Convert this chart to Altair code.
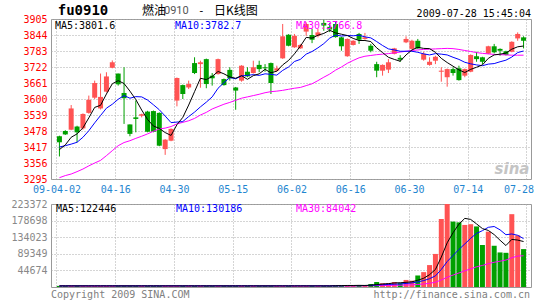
import altair as alt
import pandas as pd

# ---------------- data ----------------
DAYS = list(range(80))
OPEN = [3458, 3478, 3483, 3495, 3488, 3547, 3605, 3564, 3628, 3719,
        3697, 3623, 3503, 3530, 3536, 3552, 3554, 3547, 3409, 3441,
        3594, 3653, 3644, 3737, 3733, 3752, 3689, 3695, 3676, 3711,
        3644, 3670, 3704, 3699, 3730, 3721, 3737, 3708, 3755, 3845,
        3797, 3793, 3857, 3844, 3841, 3890, 3875, 3886, 3835, 3763,
        3806, 3848, 3829, 3803, 3733, 3708, 3712, 3772, 3757, 3816,
        3791, 3822, 3750, 3730, 3746, 3704, 3683, 3714, 3717, 3689,
        3704, 3763, 3759, 3773, 3801, 3791, 3782, 3780, 3831, 3835]
HIGH = [3460, 3481, 3577, 3498, 3545, 3613, 3670, 3697, 3702, 3747,
        3697, 3721, 3503, 3594, 3544, 3555, 3556, 3549, 3447, 3488,
        3682, 3655, 3670, 3759, 3746, 3754, 3699, 3754, 3678, 3721,
        3646, 3729, 3721, 3746, 3746, 3733, 3739, 3727, 3886, 3847,
        3848, 3810, 3892, 3867, 3867, 3902, 3890, 3894, 3837, 3831,
        3824, 3852, 3852, 3810, 3742, 3732, 3752, 3795, 3767, 3839,
        3826, 3829, 3780, 3759, 3765, 3721, 3716, 3721, 3727, 3716,
        3770, 3780, 3761, 3803, 3810, 3793, 3784, 3820, 3854, 3839]
LOW = [3381, 3463, 3481, 3435, 3483, 3544, 3600, 3560, 3625, 3717,
       3651, 3505, 3458, 3473, 3530, 3473, 3473, 3420, 3387, 3439,
       3572, 3600, 3638, 3695, 3643, 3641, 3651, 3693, 3651, 3670,
       3559, 3666, 3683, 3697, 3702, 3704, 3619, 3704, 3753, 3801,
       3795, 3791, 3841, 3813, 3835, 3860, 3855, 3834, 3784, 3761,
       3804, 3810, 3826, 3778, 3683, 3689, 3699, 3770, 3741, 3813,
       3789, 3791, 3746, 3727, 3733, 3666, 3647, 3689, 3670, 3683,
       3702, 3742, 3733, 3771, 3774, 3765, 3766, 3778, 3822, 3793]
CLOSE = [3435, 3465, 3564, 3473, 3543, 3597, 3661, 3608, 3686, 3740,
         3656, 3603, 3467, 3524, 3542, 3475, 3475, 3422, 3445, 3486,
         3680, 3619, 3657, 3699, 3740, 3657, 3679, 3752, 3653, 3679,
         3632, 3727, 3686, 3721, 3714, 3717, 3661, 3717, 3839, 3803,
         3841, 3806, 3886, 3826, 3854, 3880, 3865, 3836, 3801, 3829,
         3822, 3826, 3835, 3784, 3708, 3730, 3740, 3793, 3750, 3829,
         3822, 3793, 3772, 3742, 3761, 3708, 3714, 3699, 3672, 3714,
         3768, 3752, 3742, 3801, 3778, 3784, 3768, 3818, 3848, 3822]
MA5 = [3407, 3425, 3454, 3467, 3490, 3528, 3568, 3576, 3619, 3658,
       3670, 3659, 3630, 3598, 3558, 3522, 3497, 3488, 3472, 3461,
       3502, 3530, 3577, 3628, 3679, 3674, 3686, 3705, 3696, 3684,
       3679, 3689, 3675, 3689, 3696, 3713, 3700, 3706, 3730, 3747,
       3772, 3801, 3835, 3832, 3843, 3850, 3862, 3852, 3847, 3842,
       3831, 3823, 3823, 3819, 3795, 3777, 3759, 3751, 3744, 3768,
       3787, 3797, 3793, 3792, 3778, 3755, 3739, 3725, 3711, 3701,
       3713, 3721, 3730, 3755, 3768, 3771, 3775, 3790, 3799, 3802]
MA10 = [3417, 3422, 3428, 3435, 3454, 3479, 3509, 3537, 3565, 3580,
        3599, 3613, 3603, 3609, 3608, 3596, 3578, 3559, 3535, 3510,
        3512, 3514, 3533, 3550, 3570, 3588, 3608, 3641, 3662, 3682,
        3677, 3688, 3690, 3693, 3690, 3696, 3694, 3691, 3709, 3722,
        3743, 3751, 3771, 3781, 3795, 3811, 3832, 3844, 3840, 3842,
        3841, 3843, 3837, 3833, 3819, 3804, 3791, 3787, 3782, 3782,
        3782, 3778, 3772, 3768, 3773, 3771, 3768, 3759, 3751, 3740,
        3734, 3730, 3727, 3733, 3735, 3742, 3748, 3760, 3777, 3783]
MA30 = [3300, 3308, 3314, 3323, 3333, 3345, 3356, 3366, 3384, 3403,
        3422, 3434, 3441, 3450, 3458, 3467, 3477, 3486, 3489, 3495,
        3505, 3511, 3517, 3526, 3539, 3549, 3562, 3571, 3580, 3587,
        3595, 3603, 3608, 3613, 3618, 3624, 3628, 3630, 3633, 3637,
        3641, 3644, 3651, 3658, 3670, 3683, 3695, 3710, 3722, 3736,
        3747, 3757, 3763, 3766, 3769, 3771, 3773, 3776, 3779, 3782,
        3785, 3787, 3789, 3790, 3791, 3792, 3793, 3792, 3789, 3785,
        3781, 3777, 3774, 3772, 3770, 3769, 3768, 3767, 3767, 3767]
VOLUME = [3000] * 47 + [5000, 5000, 4500, 3000, 4500, 4000, 8000, 13500, 10000,
                        10000, 13500, 10500, 19000, 17000, 31000, 40000, 59000, 89000, 183000,
                        223372, 176000, 174000, 167000, 169000, 163000, 113000, 149000, 111000, 93000,
                        92000, 196000, 139000, 102000]
VMA5 = [3000] * 47 + [3400, 3800, 4100, 4100, 4400, 4200, 4800, 6600, 8000,
                      9100, 11000, 11500, 12600, 14000, 18200, 23500, 33200, 47200, 80400,
                      118900, 146100, 169100, 184700, 181900, 169800, 157200, 152200, 141000, 125800,
                      111600, 128200, 126200, 122446]
VMA10 = [3000] * 47 + [3200, 3400, 3550, 3550, 3700, 3800, 4300, 5350, 6050,
                       6750, 7600, 8150, 9600, 11000, 13650, 17250, 22350, 29900, 47200,
                       68500, 84800, 101100, 115900, 131100, 144300, 151600, 160600, 162800, 153800,
                       140700, 142700, 139200, 130186]
VMA30 = [3000] * 47 + [3070, 3130, 3180, 3180, 3230, 3270, 3430, 3780, 4020,
                       4270, 4620, 4870, 5400, 5870, 6800, 8100, 10000, 12900, 18900,
                       26300, 32100, 37800, 43400, 48900, 54300, 58000, 62900, 66500, 69500,
                       72500, 78800, 83200, 84042]

XTICK_POS = [-0.5, 9.5, 19.5, 29.5, 39.5, 49.5, 59.5, 69.5, 79.5]
XTICK_LABELS = ['09-04-02', '04-16', '04-30', '05-15', '06-02', '06-16', '06-30', '07-14', '07-28']
PRICE_TICKS = [3295, 3356, 3417, 3478, 3539, 3600, 3661, 3722, 3783, 3844, 3905]
VOL_TICKS = [44674, 89349, 134023, 178698, 223372]

TITLE_CODE = 'fu0910'
TITLE_CN1, TITLE_NUM, TITLE_DASH, TITLE_CN2 = '燃油', '0910', '-', '日K线图'
STAMP = '2009-07-28 15:45:04'
PRICE_LEGEND = ['MA5:3801.6', 'MA10:3782.7', 'MA30:3766.8']
VOL_LEGEND = ['MA5:122446', 'MA10:130186', 'MA30:84042']
FOOT_LEFT = 'Copyright 2009 SINA.COM'
FOOT_RIGHT = 'http://finance.sina.com.cn'
LOGO = 'sina'

# ---------------- styles ----------------
W, H1, H2 = 480, 160, 83
RED, GREEN = '#ff5353', '#00a000'
BLUE_LBL = '#1f86d0'
GRID = '#aaaaaa'
MONO = 'DejaVu Sans Mono'
CJK = 'Noto Sans CJK SC'

df = pd.DataFrame({'day': DAYS, 'open': OPEN, 'high': HIGH, 'low': LOW, 'close': CLOSE,
                   'ma5': MA5, 'ma10': MA10, 'ma30': MA30,
                   'vol': VOLUME, 'vma5': VMA5, 'vma10': VMA10, 'vma30': VMA30})

xscale = alt.Scale(domain=[-0.58333, 79.41667], nice=False, zero=False)
pscale = alt.Scale(domain=[3295, 3905], nice=False, zero=False)
vscale = alt.Scale(domain=[0, 223372], nice=False)
dir_color = alt.Color('dir:N', scale=alt.Scale(domain=['up', 'down'], range=[RED, GREEN]), legend=None)

label_expr = '[' + ','.join("'%s'" % s for s in XTICK_LABELS) + '][round((datum.value + 0.5) / 10)]'

x_main_axis = alt.Axis(values=XTICK_POS, labelExpr=label_expr, grid=True, gridColor=GRID,
                       gridDash=[1, 2], ticks=False, domain=False, labelColor=BLUE_LBL,
                       labelFont=MONO, labelFontSize=10, labelPadding=5, labelFlush=False,
                       labelOverlap=False, labelBound=False, title=None,
                       labelOffset={'condition': {'test': 'datum.value > 79', 'value': -8}, 'value': 0})
x_vol_axis = alt.Axis(values=XTICK_POS, labels=False, grid=True, gridColor=GRID,
                      gridDash=[1, 2], ticks=False, domain=False, title=None)
y_price_axis = alt.Axis(values=PRICE_TICKS, grid=True, gridColor=GRID, gridDash=[1, 2], ticks=False,
                        domain=False, labelColor='#ff0000', labelFont=MONO, labelFontSize=10,
                        labelPadding=4, labelOverlap=False, labelBound=False,
                        format='d', title=None)
y_vol_axis = alt.Axis(values=VOL_TICKS, grid=True, gridColor=GRID, gridDash=[1, 2], ticks=False,
                      domain=False, labelColor='#888888', labelFont=MONO, labelFontSize=10,
                      labelPadding=4, labelOverlap=False, labelBound=False,
                      format='d', title=None)

base = alt.Chart(df).transform_calculate(dir="datum.close >= datum.open ? 'up' : 'down'")


def note(text, x, y, color='#000000', size=10, font=MONO, align='left', weight='normal', style='normal'):
    return alt.Chart(pd.DataFrame({'t': [text]})).mark_text(
        align=align, baseline='middle', font=font, fontSize=size, color=color,
        fontWeight=weight, fontStyle=style).encode(text='t:N', x=alt.value(x), y=alt.value(y))


def ma_line(field, color, xaxis, yaxis, yscale):
    return alt.Chart(df).mark_line(color=color, strokeWidth=1).encode(
        x=alt.X('day:Q', scale=xscale, axis=xaxis),
        y=alt.Y(field + ':Q', scale=yscale, axis=yaxis))


wick = base.mark_rule(strokeWidth=1).encode(
    x=alt.X('day:Q', scale=xscale, axis=x_main_axis),
    y=alt.Y('low:Q', scale=pscale, axis=y_price_axis), y2='high:Q', color=dir_color)
body = base.mark_bar(size=5).encode(
    x=alt.X('day:Q', scale=xscale, axis=x_main_axis),
    y=alt.Y('open:Q', scale=pscale, axis=y_price_axis), y2='close:Q', color=dir_color)

main = alt.layer(
    wick, body,
    ma_line('ma30', '#ff00ff', x_main_axis, y_price_axis, pscale),
    ma_line('ma10', '#0000ff', x_main_axis, y_price_axis, pscale),
    ma_line('ma5', '#000000', x_main_axis, y_price_axis, pscale),
    note(LOGO, 461, 150, color='#c4c4c4', size=15, font='DejaVu Sans', align='center', weight='bold', style='italic'),
    note(PRICE_LEGEND[0], 4, 7, '#000000'),
    note(PRICE_LEGEND[1], 124, 7, '#0000ff'),
    note(PRICE_LEGEND[2], 245, 7, '#ff00ff'),
    note(TITLE_CODE, 32, -8, '#000000', size=14, font=MONO, align='center', weight='bold'),
    note(TITLE_CN1, 91, -8, '#000000', size=12, font=CJK),
    note(TITLE_NUM, 113, -8, '#555555', size=11, font='Roboto'),
    note(TITLE_DASH, 147, -8, '#000000', size=11, font=MONO),
    note(TITLE_CN2, 163, -8, '#000000', size=12, font=CJK),
    note(STAMP, 480, -5, '#000000', align='right'),
).properties(width=W, height=H1)

vbar = base.mark_bar(size=5).encode(
    x=alt.X('day:Q', scale=xscale, axis=x_vol_axis),
    y=alt.Y('vol:Q', scale=vscale, axis=y_vol_axis), color=dir_color)

vol = alt.layer(
    vbar,
    ma_line('vma30', '#ff00ff', x_vol_axis, y_vol_axis, vscale),
    ma_line('vma10', '#0000ff', x_vol_axis, y_vol_axis, vscale),
    ma_line('vma5', '#000000', x_vol_axis, y_vol_axis, vscale),
    note(VOL_LEGEND[0], 5, 5, '#000000'),
    note(VOL_LEGEND[1], 125, 5, '#0000ff'),
    note(VOL_LEGEND[2], 245, 5, '#ff00ff'),
    note(FOOT_LEFT, 0, 91, '#808080'),
    note(FOOT_RIGHT, 479, 91, '#808080', align='right'),
).properties(width=W, height=H2)

chart = alt.vconcat(main, vol, spacing=25, bounds='flush').properties(
    padding={'left': 10, 'top': 3, 'right': 5, 'bottom': 3},
    background='white',
).configure_view(stroke='#999999', strokeWidth=1).configure_axis(labelOverlap=False)

chart.save('out.html', embed_options={'renderer': 'svg', 'actions': False})
